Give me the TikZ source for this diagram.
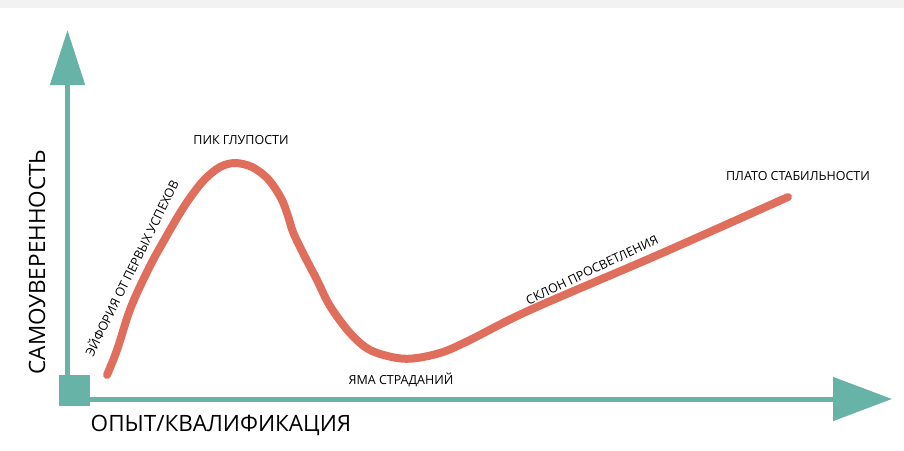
\documentclass[tikz,border=0pt]{standalone}
\usepackage{fontspec}
\setmainfont{Open Sans}
\usetikzlibrary{arrows.meta}
\definecolor{axisteal}{HTML}{68B3A7}
\definecolor{curvered}{HTML}{E06E5C}
\definecolor{topgray}{HTML}{F2F2F2}
\begin{document}
\begin{tikzpicture}[
    x=1pt, y=-1pt,
    axis/.style={draw=axisteal, line width=5pt},
    lbl/.style={inner sep=0pt, font=\fontsize{12.5}{12.5}\selectfont},
    axislbl/.style={inner sep=0pt, font=\fontsize{22.5}{22.5}\selectfont}
]
  \useasboundingbox (0,0) rectangle (904,450);
  \fill[topgray] (0,0) rectangle (904,8);

  % axes
  \coordinate (O) at (67.5,399);
  \coordinate (ytip) at (67.5,30);
  \coordinate (xtip) at (892,399);
  \draw[axis, -{Triangle[length=55pt,width=34pt]}] (O) -- (ytip);
  \draw[axis, -{Triangle[length=59pt,width=43pt]}] (O) -- (xtip);
  \node[fill=axisteal, minimum size=31pt, inner sep=0pt] (origin) at (74,390) {};

  % curve
  \draw[curvered, line width=8pt, line cap=round]
    plot[smooth, tension=0.55] coordinates {
      (107,375) (117,350) (131,307) (150,266) (166,237) (180,213)
      (192,195) (205,179) (220,167) (235,163) (252,167) (268,179)
      (281,198) (288,216) (293,232) (303,253) (317,280) (330,306)
      (350,333) (370,350) (397,358) (417,358) (443,352) (470,340)
      (530,310) (660,254) (788,197)};

  % labels
  \node[lbl] (peak) at (241,140) {ПИК ГЛУПОСТИ};
  \node[lbl, rotate=63.7] (euphoria) at (131,268) {ЭЙФОРИЯ ОТ ПЕРВЫХ УСПЕХОВ};
  \node[lbl] (pit) at (401,380) {ЯМА СТРАДАНИЙ};
  \node[lbl, rotate=25.5] (slope) at (592,270) {СКЛОН ПРОСВЕТЛЕНИЯ};
  \node[lbl] (plateau) at (798,176) {ПЛАТО СТАБИЛЬНОСТИ};
  \node[axislbl, rotate=90] (ylabel) at (37,262) {САМОУВЕРЕННОСТЬ};
  \node[axislbl] (xlabel) at (221,425) {ОПЫТ/КВАЛИФИКАЦИЯ};
\end{tikzpicture}
\end{document}
